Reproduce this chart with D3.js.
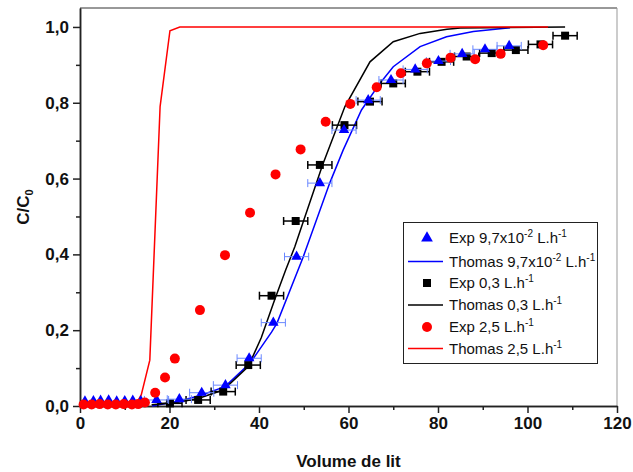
<!DOCTYPE html>
<html><head><meta charset="utf-8">
<script src="https://cdn.jsdelivr.net/npm/d3@7"></script>
<style>body{margin:0;background:#fff;} text{font-family:"Liberation Sans",Arial,sans-serif;}</style>
</head><body><svg id="c" width="633" height="472"></svg>
<script>
// ---- data ----
const xTicks = [0, 20, 40, 60, 80, 100, 120];
const yTicks = [0, 0.2, 0.4, 0.6, 0.8, 1.0];

// Exp 9,7x10-2 L.h-1 (blue triangles)
const blueX = [1.1, 3.0, 4.6, 6.4, 8.2, 10.0, 11.8, 13.6, 17.1, 22.2, 27.2, 32.5, 37.8, 43.2, 48.4, 53.6, 59.0, 64.4, 69.5, 74.9, 80.1, 85.4, 90.5, 95.9];
const blueY = [0.012, 0.013, 0.014, 0.015, 0.012, 0.013, 0.014, 0.013, 0.016, 0.018, 0.035, 0.055, 0.126, 0.22, 0.394, 0.588, 0.728, 0.807, 0.86, 0.888, 0.91, 0.929, 0.941, 0.95];
const blueErr = [0, 0, 0, 0, 0, 0, 0, 0, 2.7, 2.7, 2.7, 2.7, 2.7, 2.7, 2.7, 2.7, 2.7, 2.7, 2.7, 2.7, 2.7, 2.7, 2.7, 2.7];
// Thomas 9,7x10-2
const blueLineX = [16.1, 22.3, 27.2, 32.4, 38.0, 42.8, 44.0, 49.9, 55.8, 58.8, 62.9, 67.0, 70.0, 76.0, 81.9, 87.9, 96.1];
const blueLineY = [0.0, 0.013, 0.029, 0.051, 0.113, 0.195, 0.218, 0.394, 0.588, 0.675, 0.781, 0.851, 0.895, 0.948, 0.974, 0.988, 0.998];

// Exp 0,3 L.h-1 (black squares)
const blackX = [20.1, 26.4, 32.0, 37.6, 42.8, 48.2, 53.6, 59.1, 64.8, 70.0, 75.4, 80.8, 86.4, 92.0, 97.4, 102.9, 108.4];
const blackY = [0.007, 0.016, 0.038, 0.108, 0.291, 0.488, 0.636, 0.741, 0.803, 0.851, 0.882, 0.908, 0.922, 0.931, 0.939, 0.954, 0.977];
const blackErr = [2.7, 2.7, 2.7, 2.7, 2.7, 2.7, 2.7, 2.7, 2.7, 2.7, 2.7, 2.7, 2.7, 2.7, 2.7, 2.7, 2.7];
// Thomas 0,3
const blackLineX = [16.0, 21.6, 26.4, 32.0, 37.6, 40.5, 43.5, 46.0, 48.0, 50.0, 54.2, 59.2, 64.8, 70.0, 76.0, 82.0, 85.0, 108.4];
const blackLineY = [0.003, 0.009, 0.02, 0.042, 0.104, 0.18, 0.28, 0.36, 0.42, 0.49, 0.636, 0.79, 0.908, 0.961, 0.983, 0.994, 0.997, 1.0];

// Exp 2,5 L.h-1 (red circles)
const redX = [0.8, 2.6, 4.4, 6.2, 8.0, 9.8, 11.6, 13.0, 14.5, 16.8, 19.0, 21.2, 26.8, 32.4, 38.0, 43.7, 49.3, 54.9, 60.4, 66.3, 71.7, 77.5, 82.8, 88.3, 94.0, 103.5];
const redY = [0.004, 0.004, 0.005, 0.004, 0.004, 0.005, 0.004, 0.005, 0.009, 0.035, 0.075, 0.125, 0.253, 0.398, 0.51, 0.611, 0.677, 0.75, 0.797, 0.841, 0.878, 0.904, 0.919, 0.915, 0.929, 0.952];
// Thomas 2,5
const redLineX = [0, 12.3, 13.7, 15.6, 17.9, 20.1, 22.3, 104.6];
const redLineY = [0, 0, 0.03, 0.121, 0.79, 0.99, 1.0, 1.0];

// ---- chart ----
const svg = d3.select("#c");
const L = 80, R = 617, T = 8, B = 406;
const x = d3.scaleLinear().domain([0, 120]).range([L, R]);
const y = d3.scaleLinear().domain([0, 1.05]).range([B, T]);

svg.append("rect").attr("width", 633).attr("height", 472).attr("fill", "#fff");

// frame top/right
svg.append("line").attr("x1", L).attr("x2", R).attr("y1", T).attr("y2", T).attr("stroke", "#333").attr("stroke-width", 1);
svg.append("line").attr("x1", R).attr("x2", R).attr("y1", T).attr("y2", B).attr("stroke", "#999").attr("stroke-width", 1);

const fmtY = d => d3.format(".1f")(d).replace(".", ",");

// minor ticks
const gxm = svg.append("g").attr("transform", `translate(0,${B})`)
  .call(d3.axisBottom(x).tickValues(d3.range(10, 120, 20)).tickSize(4).tickFormat("").tickSizeOuter(0));
const gym = svg.append("g").attr("transform", `translate(${L},0)`)
  .call(d3.axisLeft(y).tickValues([0.1, 0.3, 0.5, 0.7, 0.9]).tickSize(4).tickFormat("").tickSizeOuter(0));
// major
const gx = svg.append("g").attr("transform", `translate(0,${B})`)
  .call(d3.axisBottom(x).tickValues(xTicks).tickSize(7).tickPadding(4).tickSizeOuter(0));
const gy = svg.append("g").attr("transform", `translate(${L},0)`)
  .call(d3.axisLeft(y).tickValues(yTicks).tickSize(7).tickPadding(4).tickFormat(fmtY).tickSizeOuter(0));
[gxm, gym, gx, gy].forEach(g => {
  g.selectAll("path,line").attr("stroke", "#222").attr("stroke-width", 1.5);
  g.selectAll("text").attr("font-size", 17).attr("font-weight", "bold").attr("fill", "#111")
    .attr("font-family", '"Liberation Sans",Arial,sans-serif');
});

// titles
svg.append("text").attr("x", (L + R) / 2).attr("y", 467).attr("text-anchor", "middle")
  .attr("font-size", 17).attr("font-weight", "bold").attr("fill", "#111").text("Volume de lit");
const yt = svg.append("text").attr("transform", `translate(29,${(T + B) / 2}) rotate(-90)`)
  .attr("text-anchor", "middle").attr("font-size", 17).attr("font-weight", "bold").attr("fill", "#111");
yt.append("tspan").text("C/C");
yt.append("tspan").attr("dy", 4).attr("font-size", 11).text("0");

// lines
const line = d3.line().x(d => x(d[0])).y(d => y(d[1]));
const zip = (a, b) => a.map((v, i) => [v, b[i]]);
svg.append("path").datum(zip(blueLineX, blueLineY)).attr("d", line).attr("fill", "none").attr("stroke", "#0000ff").attr("stroke-width", 1.5);
svg.append("path").datum(zip(blackLineX, blackLineY)).attr("d", line).attr("fill", "none").attr("stroke", "#000").attr("stroke-width", 1.5);
svg.append("path").datum(zip(redLineX, redLineY)).attr("d", line).attr("fill", "none").attr("stroke", "#ff0000").attr("stroke-width", 1.5);

function errBars(xs, ys, es, color, w) {
  const g = svg.append("g").attr("stroke", color).attr("stroke-width", w);
  xs.forEach((v, i) => {
    if (!es[i]) return;
    const yy = y(ys[i]), x1 = x(v - es[i]), x2 = x(v + es[i]);
    g.append("line").attr("x1", x1).attr("x2", x2).attr("y1", yy).attr("y2", yy);
    g.append("line").attr("x1", x1).attr("x2", x1).attr("y1", yy - 4).attr("y2", yy + 4);
    g.append("line").attr("x1", x2).attr("x2", x2).attr("y1", yy - 4).attr("y2", yy + 4);
  });
}

// black squares
errBars(blackX, blackY, blackErr, "#000", 1.5);
svg.append("g").selectAll("path").data(zip(blackX, blackY)).join("path")
  .attr("d", d3.symbol(d3.symbolSquare, 64)).attr("transform", d => `translate(${x(d[0])},${y(d[1])})`).attr("fill", "#000");

// blue triangles
errBars(blueX, blueY, blueErr, "#6a88ff", 1);
svg.append("g").selectAll("path").data(zip(blueX, blueY)).join("path")
  .attr("d", d3.symbol(d3.symbolTriangle, 48)).attr("transform", d => `translate(${x(d[0])},${y(d[1])})`).attr("fill", "#0000ff");

// red circles
svg.append("g").selectAll("circle").data(zip(redX, redY)).join("circle")
  .attr("cx", d => x(d[0])).attr("cy", d => y(d[1])).attr("r", 5).attr("fill", "#ff0000");

// legend
const lg = svg.append("g");
lg.append("rect").attr("x", 403.5).attr("y", 222.5).attr("width", 194).attr("height", 141)
  .attr("fill", "#fff").attr("stroke", "#222").attr("stroke-width", 1);
const rows = [238, 261.5, 283, 305, 327, 348.5];
const mx = 427, tx = 449;
lg.append("path").attr("d", d3.symbol(d3.symbolTriangle, 60)).attr("transform", `translate(${mx},${rows[0]})`).attr("fill", "#0000ff");
lg.append("line").attr("x1", 408).attr("x2", 443).attr("y1", rows[1]).attr("y2", rows[1]).attr("stroke", "#0000ff").attr("stroke-width", 1.5);
lg.append("path").attr("d", d3.symbol(d3.symbolSquare, 64)).attr("transform", `translate(${mx},${rows[2]})`).attr("fill", "#000");
lg.append("line").attr("x1", 408).attr("x2", 443).attr("y1", rows[3]).attr("y2", rows[3]).attr("stroke", "#000").attr("stroke-width", 1.5);
lg.append("circle").attr("cx", mx).attr("cy", rows[4]).attr("r", 5).attr("fill", "#ff0000");
lg.append("line").attr("x1", 408).attr("x2", 443).attr("y1", rows[5]).attr("y2", rows[5]).attr("stroke", "#ff0000").attr("stroke-width", 1.5);

const labels = [
  ["Exp 9,7x10", "-2", " L.h", "-1"],
  ["Thomas 9,7x10", "-2", " L.h", "-1"],
  ["Exp 0,3 L.h", "-1"],
  ["Thomas 0,3 L.h", "-1"],
  ["Exp 2,5 L.h", "-1"],
  ["Thomas 2,5 L.h", "-1"]
];
labels.forEach((parts, i) => {
  const t = lg.append("text").attr("x", tx).attr("y", rows[i] + 5).attr("font-size", 15).attr("fill", "#111");
  parts.forEach((p, j) => {
    const sup = j % 2 === 1;
    const s = t.append("tspan").text(p);
    if (sup) s.attr("dy", -6).attr("font-size", 10);
    else if (j > 0) s.attr("dy", 6);
  });
});
</script></body></html>
